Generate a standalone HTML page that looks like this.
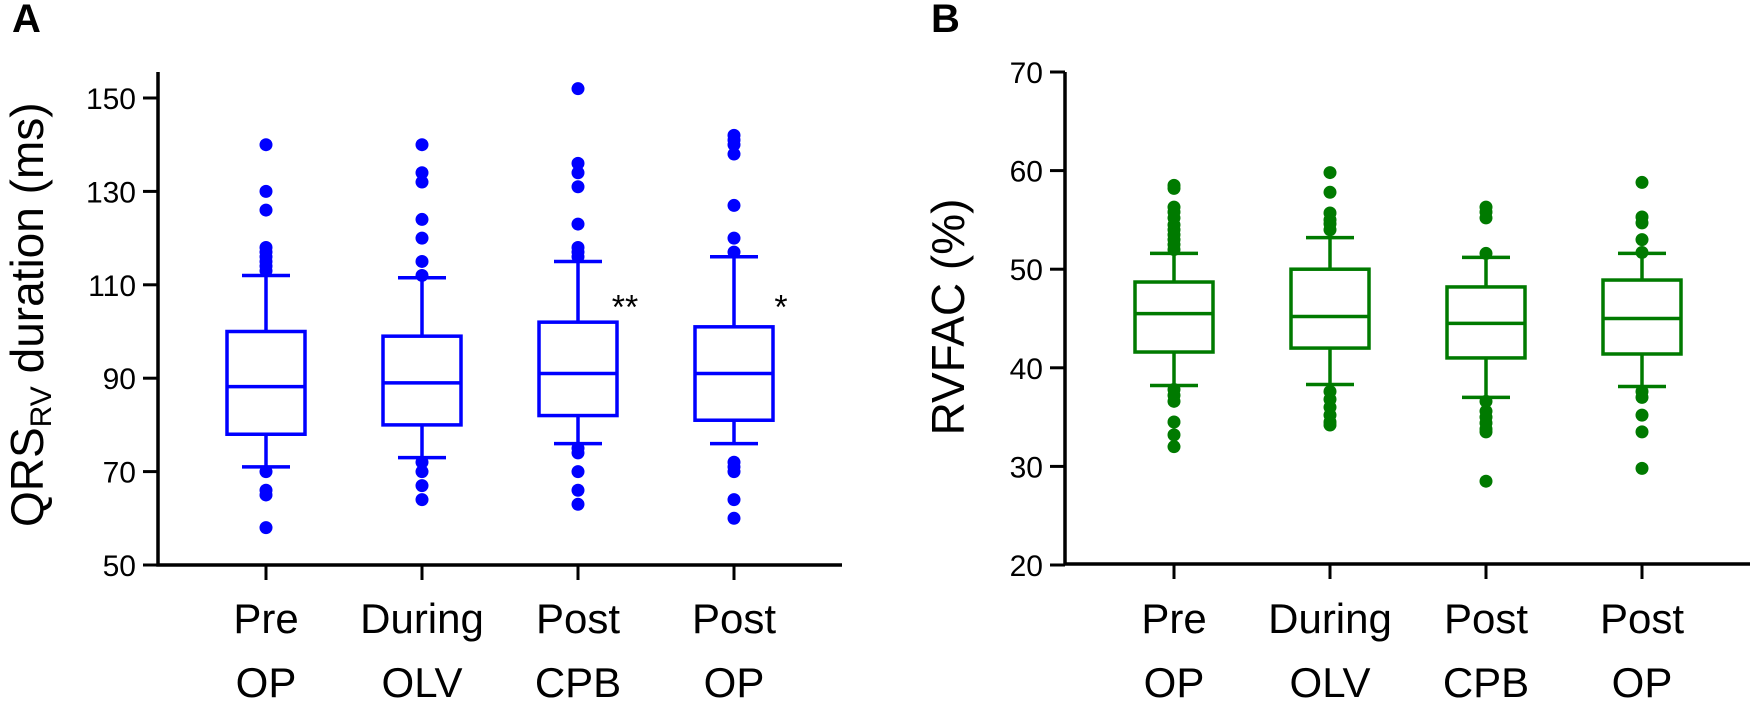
<!DOCTYPE html>
<html><head><meta charset="utf-8"><style>
html,body{margin:0;padding:0;background:#fff}
svg{display:block;font-family:"Liberation Sans",Arial,sans-serif}
</style></head><body>
<svg id="fig" width="1755" height="705" viewBox="0 0 1755 705">
<text x="12" y="32" font-size="40" font-weight="bold">A</text>
<text x="931" y="32" font-size="40" font-weight="bold">B</text>
<text transform="translate(43,527) rotate(-90)" font-size="46">QRS<tspan font-size="30" dy="8">RV</tspan><tspan dy="-8"> duration (ms)</tspan></text>
<text transform="translate(964,317) rotate(-90)" font-size="46" text-anchor="middle">RVFAC (%)</text>
<g id="pa"></g><g id="pb"></g>
</svg>
<script>
const categories = ["Pre|OP","During|OLV","Post|CPB","Post|OP"];
const qrsQ1 = [78,80,82,81];
const qrsMedian = [88.2,89,91,91];
const qrsQ3 = [100,99,102,101];
const qrsWhiskLo = [71,73,76,76];
const qrsWhiskHi = [112,111.5,115,116];
const qrsOutliers = [
 [140,130,126,118,117,116,115,114,113,70,66,65,58],
 [140,134,132,124,120,115,112,72,70,67,64],
 [152,136,134,131,123,118,117,116,75,74,70,66,63],
 [142,141,140,138,127,120,117,72,71,70,64,60]];
const qrsStars = ["","","**","*"];
const qrsTicks = [50,70,90,110,130,150];
const facQ1 = [41.6,42,41,41.4];
const facMedian = [45.5,45.2,44.5,45];
const facQ3 = [48.7,50,48.2,48.9];
const facWhiskLo = [38.2,38.3,37,38.1];
const facWhiskHi = [51.6,53.2,51.2,51.6];
const facOutliers = [
 [58.5,58.2,56.3,55.8,55.2,54.5,54,53.5,53,52.5,52,37.8,37.2,36.6,34.5,33.2,32],
 [59.8,57.8,55.7,55,54.6,54,37.6,36.8,36,35.2,34.5,34.2],
 [56.3,55.8,55.2,51.6,36.6,35.6,35,34.4,33.8,33.5,28.5],
 [58.8,55.3,54.7,53,51.7,37.6,37,35.2,33.5,29.8]];
const facTicks = [20,30,40,50,60,70];
const NS="http://www.w3.org/2000/svg";
function mk(p,t,a){const e=document.createElementNS(NS,t);for(const k in a)e.setAttribute(k,a[k]);p.appendChild(e);return e;}
function panel(gid,o){
 const g=document.getElementById(gid);
 const y=v=>o.y0-(v-o.vmin)*(o.y0-o.y1)/(o.vmax-o.vmin);
 const x=i=>o.x0+i*156;
 const ax=mk(g,'path',{d:`M${o.ax},${o.top}V${o.base}H${o.xend}`,stroke:'#000','stroke-width':3.5,fill:'none'});
 
 
 o.ticks.forEach(t=>{
  const tk=mk(g,'line',{x1:o.ax-15,x2:o.ax,y1:y(t),y2:y(t),stroke:'#000','stroke-width':3});
  
  
  const tl=mk(g,'text',{x:o.ax-22,y:y(t)+11,'font-size':30,'text-anchor':'end'});
  tl.textContent=t;
  
  
 });
 categories.forEach((c,i)=>{
  const cx=x(i);
  const tk=mk(g,'line',{x1:cx,x2:cx,y1:o.base,y2:o.base+15,stroke:'#000','stroke-width':3});
  
  
  const p=c.split('|');
  const t1=mk(g,'text',{x:cx,y:633,'font-size':42,'text-anchor':'middle'});t1.textContent=p[0];
  
  
  const t2=mk(g,'text',{x:cx,y:697,'font-size':42,'text-anchor':'middle'});t2.textContent=p[1];
  
  
  const bx=mk(g,'g',{stroke:o.col,'stroke-width':3.5,fill:'none'});
  
  
  mk(bx,'rect',{x:cx-39,y:y(o.q3[i]),width:78,height:y(o.q1[i])-y(o.q3[i])});
  mk(bx,'line',{x1:cx-39,x2:cx+39,y1:y(o.med[i]),y2:y(o.med[i])});
  mk(bx,'line',{x1:cx,x2:cx,y1:y(o.q3[i]),y2:y(o.wh[i])});
  mk(bx,'line',{x1:cx,x2:cx,y1:y(o.q1[i]),y2:y(o.wl[i])});
  mk(bx,'line',{x1:cx-24,x2:cx+24,y1:y(o.wh[i]),y2:y(o.wh[i])});
  mk(bx,'line',{x1:cx-24,x2:cx+24,y1:y(o.wl[i]),y2:y(o.wl[i])});
  o.out[i].forEach(v=>{
   const d=mk(g,'circle',{cx:cx,cy:y(v),r:6.5,fill:o.col});
   
   
  });
  if(o.stars&&o.stars[i]){
   const s=mk(g,'text',{x:cx+47,y:y(107.5)+22,'font-size':34,'text-anchor':'middle'});
   s.textContent=o.stars[i];
   
   
  }
 });
}
panel('pa',{x0:266,ax:158,top:72,base:565,xend:842,y0:565,y1:98,vmin:50,vmax:150,ticks:qrsTicks,col:'#0000ff',
 q1:qrsQ1,med:qrsMedian,q3:qrsQ3,wl:qrsWhiskLo,wh:qrsWhiskHi,out:qrsOutliers,stars:qrsStars});
panel('pb',{x0:1174,ax:1065,top:72,base:564,xend:1750,y0:565,y1:72,vmin:20,vmax:70,ticks:facTicks,col:'#007a00',
 q1:facQ1,med:facMedian,q3:facQ3,wl:facWhiskLo,wh:facWhiskHi,out:facOutliers,stars:null});
</script>
</body></html>
